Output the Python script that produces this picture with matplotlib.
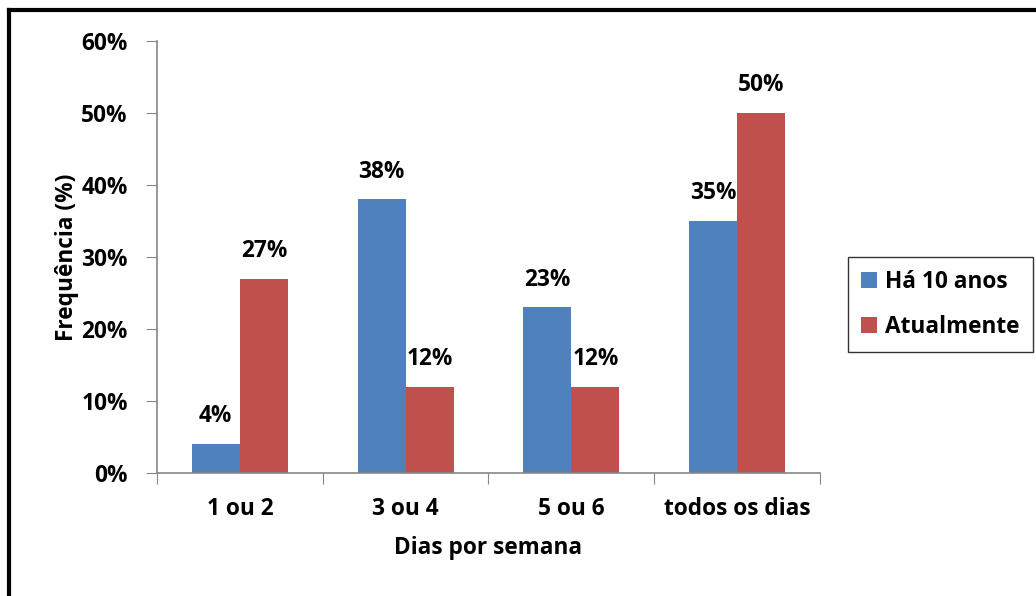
import numpy as np
import matplotlib
matplotlib.use("Agg")
import matplotlib.pyplot as plt
from matplotlib.lines import Line2D

# data
categories = ["1 ou 2", "3 ou 4", "5 ou 6", "todos os dias"]
ha_10_anos = [4, 38, 23, 35]
atualmente = [27, 12, 12, 50]
series_names = ["Há 10 anos", "Atualmente"]
y_ticks = [0, 10, 20, 30, 40, 50, 60]

plt.rcParams['font.family'] = ['Open Sans', 'DejaVu Sans']
plt.rcParams['font.weight'] = 'bold'
FS = 16.3

fig = plt.figure(figsize=(10.36, 5.96), dpi=100)
ax = fig.add_axes([0.1515, 0.2064, 0.64, 0.7248])

x = np.arange(len(categories))
w = 0.29
b1 = ax.bar(x - w / 2, ha_10_anos, w, color="#4F81BD", label=series_names[0])
b2 = ax.bar(x + w / 2, atualmente, w, color="#C0504D", label=series_names[1])

# value labels above each bar
for bars, vals in [(b1, ha_10_anos), (b2, atualmente)]:
    for rect, v in zip(bars, vals):
        ax.text(rect.get_x() + rect.get_width() / 2, v + 2.2, f"{v}%",
                ha="center", va="bottom", fontsize=FS, fontweight="bold")

ax.set_xlim(-0.5, len(categories) - 0.5)
ax.set_ylim(0, 60)
ax.set_yticks(y_ticks)
ax.set_yticklabels([f"{t}%" for t in y_ticks], fontsize=FS, fontweight="bold")

# category labels centered, ticks between categories
ax.set_xticks(np.arange(-0.5, len(categories)), minor=False)
ax.set_xticklabels([])
ax.set_xticks(x, minor=True)
ax.set_xticklabels(categories, minor=True, fontsize=FS, fontweight="bold")
ax.tick_params(axis="x", which="minor", length=0, pad=17)
ax.tick_params(axis="x", which="major", length=8, direction="out", color="#868686")
ax.tick_params(axis="y", length=8, direction="out", color="#868686", pad=13)

for s in ["top", "right"]:
    ax.spines[s].set_visible(False)
for s in ["left", "bottom"]:
    ax.spines[s].set_color("#868686")
    ax.spines[s].set_linewidth(1.2)

ax.set_xlabel("Dias por semana", fontsize=FS, fontweight="bold", labelpad=11)
ax.set_ylabel("Frequência (%)", fontsize=FS, fontweight="bold", labelpad=2)

leg = ax.legend(loc="center left", bbox_to_anchor=(1.042, 0.39), frameon=True,
                fancybox=False, edgecolor="black", fontsize=FS,
                handlelength=0.7, handleheight=0.7, handletextpad=0.35,
                labelspacing=0.9, borderpad=0.6, borderaxespad=0)
leg.get_frame().set_linewidth(1.0)
for t in leg.get_texts():
    t.set_fontweight("bold")

# outer frame (top and left edges visible)
fig.add_artist(Line2D([0.0085, 1.0], [0.9835, 0.9835], color="black", lw=3,
                      transform=fig.transFigure))
fig.add_artist(Line2D([0.0085, 0.0085], [0.0, 0.9835], color="black", lw=3,
                      transform=fig.transFigure))

fig.savefig("out.png", dpi=100, facecolor="white")
